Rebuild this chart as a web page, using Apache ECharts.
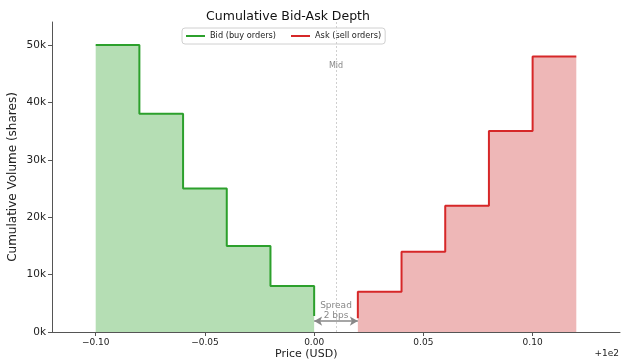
<!DOCTYPE html>
<html>
<head>
<meta charset="utf-8">
<script src="https://cdn.jsdelivr.net/npm/echarts@6/dist/echarts.min.js"></script>
<style>
  html, body { margin: 0; padding: 0; background: #fff; }
  #chart { width: 621px; height: 363px; }
</style>
</head>
<body>
<div id="chart"></div>
<script>
// Order book levels, prices shown as offsets from the 100 USD base
const basePrice = 100;
const bidPrices = [99.90, 99.92, 99.94, 99.96, 99.98, 100.00];
const bidCumVolume = [50000, 38000, 25000, 15000, 8000, 2800];
const askPrices = [100.02, 100.04, 100.06, 100.08, 100.10, 100.12];
const askCumVolume = [2400, 7000, 14000, 22000, 35000, 48000];
const midPrice = 100.01;
const spreadLabel = 'Spread\n2 bps';
const xTickOffsets = [-0.10, -0.05, 0.00, 0.05, 0.10];
const yTicks = [0, 10000, 20000, 30000, 40000, 50000];

const FONT = 'DejaVu Sans';
const off = p => +(p - basePrice).toFixed(4);

const bidData = bidPrices.map((p, i) => [off(p), bidCumVolume[i]]);
const askData = askPrices.map((p, i) => [off(p), askCumVolume[i]]);
const midX = off(midPrice);
const spreadY = 1900;

const chart = echarts.init(document.getElementById('chart'), null, { renderer: 'canvas' });

const fmtX = v => {
  const s = Math.abs(v).toFixed(2);
  return (v < -1e-9 ? '\u2212' : '') + s;
};

chart.setOption({
  animation: false,
  backgroundColor: '#ffffff',
  title: {
    text: 'Cumulative Bid-Ask Depth',
    left: 283,
    textAlign: 'center',
    top: 5,
    textStyle: { fontFamily: FONT, fontSize: 12.5, fontWeight: 'normal', color: '#111' }
  },
  legend: {
    left: 182,
    top: 28,
    orient: 'horizontal',
    icon: 'rect',
    itemWidth: 19,
    itemHeight: 2,
    itemGap: 15,
    padding: [4, 4, 4, 4],
    borderColor: '#d0d0d0',
    borderWidth: 1,
    borderRadius: 3,
    backgroundColor: '#ffffff',
    textStyle: { fontFamily: FONT, fontSize: 8.2, color: '#222' },
    data: ['Bid (buy orders)', 'Ask (sell orders)']
  },
  grid: { left: 52, right: 1, top: 22, bottom: 31, containLabel: false, outerBoundsMode: 'none' },
  xAxis: {
    type: 'value',
    min: -0.12,
    max: 0.14,
    splitLine: { show: false },
    axisLine: { show: true, onZero: false, lineStyle: { color: '#555', width: 1 } },
    axisTick: { show: true, length: 4, customValues: xTickOffsets, lineStyle: { color: '#555' } },
    axisLabel: {
      customValues: xTickOffsets,
      formatter: fmtX,
      fontFamily: FONT, fontSize: 9, color: '#222', margin: 6
    }
  },
  yAxis: {
    type: 'value',
    min: 0,
    max: 54000,
    splitLine: { show: false },
    name: 'Cumulative Volume (shares)',
    nameLocation: 'middle',
    nameGap: 33,
    nameMoveOverlap: false,
    nameTextStyle: { fontFamily: FONT, fontSize: 12, color: '#222' },
    axisLine: { show: true, onZero: false, lineStyle: { color: '#555', width: 1 } },
    axisTick: { show: true, length: 4, customValues: yTicks, lineStyle: { color: '#555' } },
    axisLabel: {
      customValues: yTicks,
      formatter: v => (v / 1000).toFixed(0) + 'k',
      fontFamily: FONT, fontSize: 10.5, color: '#222', margin: 6
    }
  },
  series: [
    {
      name: 'Bid (buy orders)',
      type: 'line',
      step: 'end',
      data: bidData,
      symbol: 'none',
      itemStyle: { color: '#2ca02c' },
      lineStyle: { color: '#2ca02c', width: 2 },
      areaStyle: { color: '#b5deb4', opacity: 1, origin: 0 },
      z: 3
    },
    {
      name: 'Ask (sell orders)',
      type: 'line',
      step: 'start',
      data: askData,
      symbol: 'none',
      itemStyle: { color: '#d62728' },
      lineStyle: { color: '#d62728', width: 2 },
      areaStyle: { color: '#eeb7b7', opacity: 1, origin: 0 },
      z: 3,
      markLine: {
        silent: true,
        animation: false,
        symbol: ['none', 'none'],
        label: { show: false },
        data: [
          {
            xAxis: midX,
            lineStyle: { color: '#cfcfcf', type: [2, 2], width: 1 }
          },
          [
            { coord: [off(bidPrices[bidPrices.length - 1]), spreadY], symbol: 'arrow', symbolSize: [7, 8] },
            { coord: [off(askPrices[0]), spreadY], symbol: 'arrow', symbolSize: [7, 8] }
          ]
        ],
        lineStyle: { color: '#888', width: 1.5, type: 'solid' }
      },
      markPoint: {
        silent: true,
        symbol: 'rect',
        symbolSize: 0,
        data: [
          {
            coord: [midX, 46400],
            label: { show: true, position: 'inside', formatter: 'Mid', fontFamily: FONT, fontSize: 8, color: '#888' }
          },
          {
            coord: [midX, 3700],
            label: {
              show: true, position: 'inside', formatter: spreadLabel,
              fontFamily: FONT, fontSize: 9, color: '#888', lineHeight: 10, align: 'center'
            }
          }
        ]
      }
    }
  ],
  graphic: [
    {
      type: 'text',
      left: 306 - 31,
      top: 349,
      style: { text: 'Price (USD)', fontFamily: FONT, fontSize: 11, fill: '#222' }
    },
    {
      type: 'text',
      right: 2,
      top: 349,
      style: { text: '+1e2', fontFamily: FONT, fontSize: 9, fill: '#222' }
    }
  ]
});
</script>
</body>
</html>
